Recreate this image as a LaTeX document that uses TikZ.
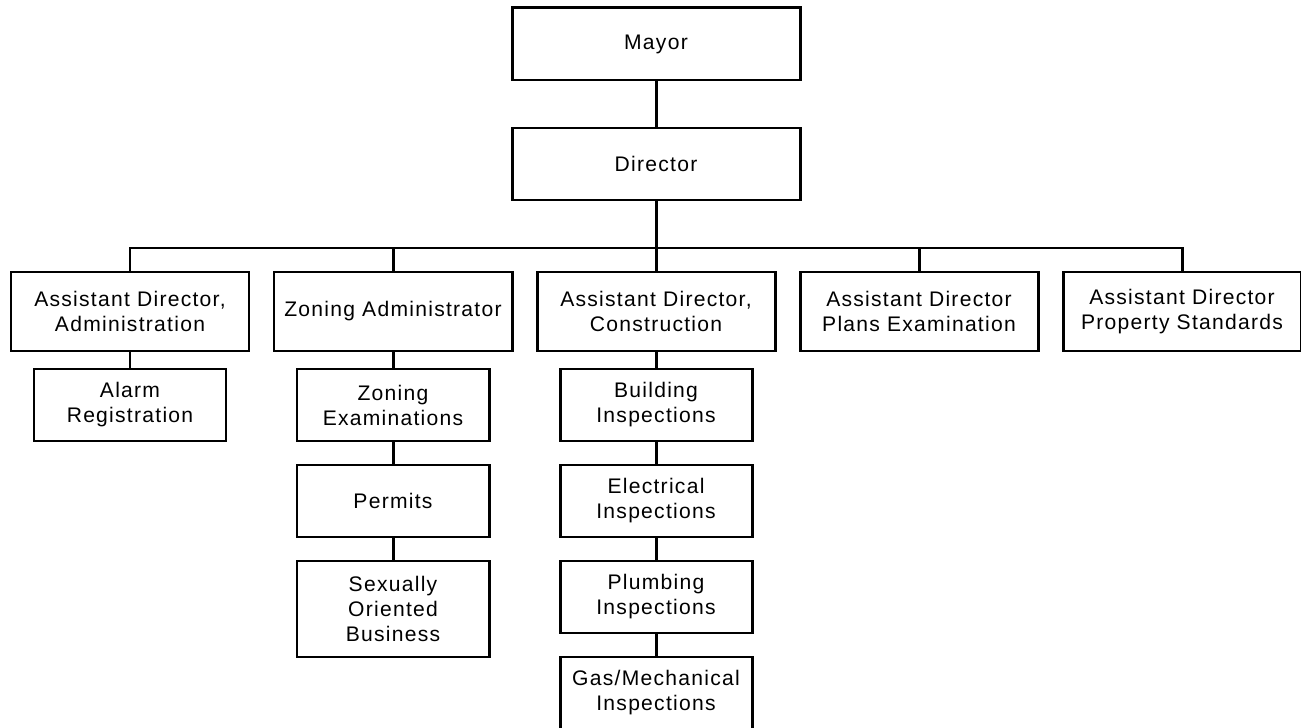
\documentclass[tikz,border=0pt]{standalone}
\usepackage{fontspec}
\setmainfont{Liberation Sans}[LetterSpace=6]
\begin{document}
\begin{tikzpicture}[
        box/.style={rectangle, draw, line width=1.7pt, inner sep=0pt, align=center,
          minimum width=4.76cm, minimum height=1.58cm, font=\fontsize{12pt}{14.2pt}\selectfont},
        topbox/.style={box, minimum width=5.76cm, minimum height=1.44cm},
        subbox/.style={box, minimum width=3.84cm, minimum height=1.44cm},
        link/.style={line width=1.7pt}
      ]
      \useasboundingbox (0,0) rectangle (26.02,-14.56);

      % Top of the chart
      \node[topbox] (mayor) at (13.12,-0.88) {Mayor};
      \node[topbox] (director) at (13.12,-3.28) {Director};

      % Assistant directors
      \node[box] (adadmin) at (2.6,-6.23) {Assistant Director,\\Administration};
      \node[box] (zoning) at (7.86,-6.23) {Zoning Administrator};
      \node[box] (adcons) at (13.12,-6.23) {Assistant Director,\\Construction};
      \node[box] (plans) at (18.38,-6.23) {Assistant Director\\Plans Examination};
      \node[box] (property) at (23.64,-6.23) {Assistant Director\\Property Standards};

      % Administration
      \node[subbox] (alarm) at (2.6,-8.1) {Alarm\\Registration};

      % Zoning
      \node[subbox] (zonexam) at (7.86,-8.1) {Zoning\\Examinations};
      \node[subbox] (permits) at (7.86,-10.02) {Permits};
      \node[subbox, minimum height=1.92cm] (sob) at (7.86,-12.18) {Sexually\\Oriented\\Business};

      % Construction
      \node[subbox] (building) at (13.12,-8.1) {Building\\Inspections};
      \node[subbox] (electrical) at (13.12,-10.02) {Electrical\\Inspections};
      \node[subbox] (plumbing) at (13.12,-11.94) {Plumbing\\Inspections};
      \node[subbox] (gas) at (13.12,-13.86) {Gas/Mechanical\\Inspections};

      % Connect everything
      \coordinate (bar) at (13.12,-4.96);
      \draw[link] (mayor) -- (director);
      \foreach \n in {adadmin,zoning,adcons,plans,property}
        \draw[link] (director.south) |- (bar) -| (\n.north);

      \draw[link] (adadmin) -- (alarm);
      \draw[link] (zoning) -- (zonexam);
      \draw[link] (zonexam) -- (permits);
      \draw[link] (permits) -- (sob);
      \draw[link] (adcons) -- (building);
      \draw[link] (building) -- (electrical);
      \draw[link] (electrical) -- (plumbing);
      \draw[link] (plumbing) -- (gas);
    \end{tikzpicture}
\end{document}
